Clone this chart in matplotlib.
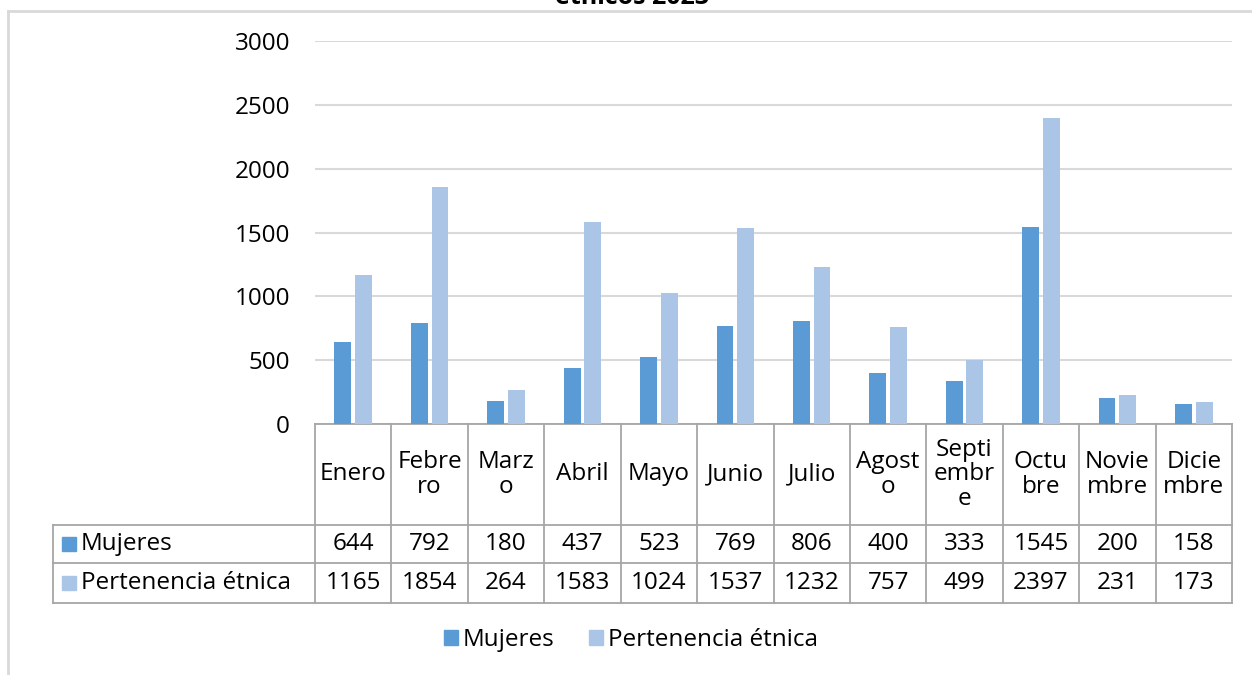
import matplotlib
matplotlib.use("Agg")
import matplotlib.pyplot as plt
from matplotlib.patches import Patch
from matplotlib.lines import Line2D

months = ["Enero", "Febrero", "Marzo", "Abril", "Mayo", "Junio", "Julio",
          "Agosto", "Septiembre", "Octubre", "Noviembre", "Diciembre"]
month_labels = ["Enero", "Febre\nro", "Marz\no", "Abril", "Mayo", "Junio", "Julio",
                "Agost\no", "Septi\nembr\ne", "Octu\nbre", "Novie\nmbre", "Dicie\nmbre"]
mujeres = [644, 792, 180, 437, 523, 769, 806, 400, 333, 1545, 200, 158]
pertenencia = [1165, 1854, 264, 1583, 1024, 1537, 1232, 757, 499, 2397, 231, 173]
series_names = ["Mujeres", "Pertenencia étnica"]
colors = ["#5B9BD5", "#ABC5E7"]
yticks = [0, 500, 1000, 1500, 2000, 2500, 3000]
title_tail = "étnicos 2023"

W, H = 1252, 675
plt.rcParams['font.family'] = ['Open Sans', 'DejaVu Sans']
FS = 17.5
fig = plt.figure(figsize=(W / 100, H / 100), dpi=100)

L, R, T, B = 315, 1232, 41, 424
ax = fig.add_axes([L / W, 1 - B / H, (R - L) / W, (B - T) / H])
x = list(range(len(months)))
bw = 0.22
off = 0.135
ax.bar([i - off for i in x], mujeres, width=bw, color=colors[0], zorder=3)
ax.bar([i + off for i in x], pertenencia, width=bw, color=colors[1], zorder=3)
ax.set_xlim(-0.5, len(months) - 0.5)
ax.set_ylim(0, 3000)
ax.set_yticks(yticks)
ax.set_yticklabels([str(v) for v in yticks], fontsize=FS)
ax.tick_params(axis='y', length=0, pad=18)
ax.set_xticks([])
for s in ax.spines.values():
    s.set_visible(False)
ax.grid(axis='y', color='#D9D9D9', linewidth=1.5, zorder=0)
ax.set_axisbelow(True)

# table (coordinates in axes fraction, derived from pixel layout)
def ay(py):
    return (B - py) / (B - T)

def axx(px):
    return (px - L) / (R - L)

tc = '#A6A6A6'
tlw = 1.3
trX = ax.transAxes
row_top, row1, row2, row_bot = 424, 525, 563, 603
lab_left = 53
n = len(months)
for i in range(n + 1):
    xx = i / n
    ax.add_line(Line2D([xx, xx], [ay(row_top), ay(row_bot)], transform=trX,
                       color=tc, lw=tlw, clip_on=False))
ax.add_line(Line2D([0, 1], [ay(row_top), ay(row_top)], transform=trX,
                   color=tc, lw=tlw, clip_on=False))
for py in (row1, row2, row_bot):
    ax.add_line(Line2D([axx(lab_left), 1], [ay(py), ay(py)], transform=trX,
                       color=tc, lw=tlw, clip_on=False))
ax.add_line(Line2D([axx(lab_left), axx(lab_left)], [ay(row1), ay(row_bot)], transform=trX,
                   color=tc, lw=tlw, clip_on=False))

trXd = ax.get_xaxis_transform()
hy = ay((row_top + row1) / 2)
r1y = ay((row1 + row2) / 2)
r2y = ay((row2 + row_bot) / 2)
for i, lab in enumerate(month_labels):
    ax.text(i, hy, lab, transform=trXd, ha='center', va='center', fontsize=FS,
            linespacing=1.05, clip_on=False)
    ax.text(i, r1y, str(mujeres[i]), transform=trXd, ha='center', va='center',
            fontsize=FS, clip_on=False)
    ax.text(i, r2y, str(pertenencia[i]), transform=trXd, ha='center', va='center',
            fontsize=FS, clip_on=False)

for yy, name, c in ((r1y, series_names[0], colors[0]), (r2y, series_names[1], colors[1])):
    ax.plot([axx(69)], [yy], marker='s', markersize=10, color=c, transform=trX,
            clip_on=False, linestyle='none')
    ax.text(axx(81), yy, name, transform=trX, ha='left', va='center', fontsize=FS,
            clip_on=False)

# legend
handles = [Patch(color=colors[0], label=series_names[0]),
           Patch(color=colors[1], label=series_names[1])]
fig.legend(handles=handles, loc='center', bbox_to_anchor=(631 / W, 1 - 640 / H),
           ncol=2, frameon=False, fontsize=FS, handlelength=0.6, handleheight=0.6,
           handletextpad=0.2, columnspacing=1.4)

# chart border
fig.add_artist(Line2D([8 / W, 1], [1 - 11 / H, 1 - 11 / H], transform=fig.transFigure,
                      color='#D9D9D9', lw=2))
fig.add_artist(Line2D([8 / W, 8 / W], [0, 1 - 11 / H], transform=fig.transFigure,
                      color='#D9D9D9', lw=2))

# title (clipped at top in the reference)
fig.text(632 / W, 1 - 4 / H, title_tail, ha='center', va='baseline', fontsize=18,
         fontweight='bold')

fig.savefig("out.png", dpi=100)
